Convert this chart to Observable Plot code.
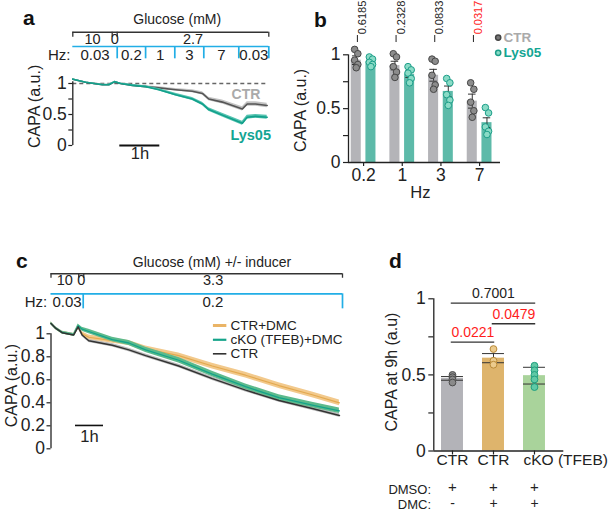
<!DOCTYPE html>
<html><head><meta charset="utf-8">
<script src="https://cdn.jsdelivr.net/npm/d3@7"></script>
<script src="https://cdn.jsdelivr.net/npm/@observablehq/plot@0.6"></script>
<style>
body{margin:0;background:#fff;}
#fig{position:relative;width:609px;height:511px;overflow:hidden;font-family:"Liberation Sans",Arial,Helvetica,sans-serif;background:#fff;}
#fig svg{position:absolute;left:0;top:0;}
.lab{position:absolute;font-weight:bold;font-size:21px;color:#111;line-height:1;}
</style></head><body>
<div id="fig">
  <div class="lab" style="left:23px;top:7px">a</div>
  <div class="lab" style="left:314px;top:9px">b</div>
  <div class="lab" style="left:16px;top:250px">c</div>
  <div class="lab" style="left:389px;top:250px">d</div>
</div>
<script>
// ---------------- DATA ----------------
// Panel a: time (h) and normalised CAPA
const aTime   = [0, 0.32, 0.74, 0.9, 1.05, 1.19, 1.49, 1.82, 2.15, 2.57, 2.99, 3.24, 3.4, 3.74, 4.24, 4.36, 4.57, 4.86];
const aCtr    = [1.07, 1.02, 0.98, 0.98, 1.03, 1.0, 0.97, 0.95, 0.93, 0.90, 0.875, 0.84, 0.75, 0.70, 0.59, 0.67, 0.67, 0.645];
const aCtrSem = [0.006, 0.006, 0.006, 0.006, 0.008, 0.01, 0.012, 0.015, 0.018, 0.021, 0.024, 0.027, 0.03, 0.032, 0.034, 0.035, 0.035, 0.035];
const aLys    = [1.07, 1.02, 0.98, 0.98, 1.03, 1.0, 0.97, 0.95, 0.90, 0.82, 0.75, 0.67, 0.58, 0.49, 0.36, 0.455, 0.47, 0.455];
const aLysSem = [0.006, 0.006, 0.006, 0.006, 0.008, 0.01, 0.012, 0.015, 0.018, 0.021, 0.024, 0.026, 0.028, 0.03, 0.032, 0.032, 0.032, 0.032];
const aGluEdges  = [0, 0.985, 1.11, 4.9];
const aGluLabels = ["10", "0", "2.7"];
const aHzEdges   = [0, 1.11, 1.82, 2.55, 3.275, 4.15, 4.9];
const aHzLabels  = ["0.03", "0.2", "1", "3", "7", "0.03"];
const aYTicks = [0, 0.25, 0.5, 0.75, 1];

// Panel b
const bHz       = ["0.2", "1", "3", "7"];
const bCtrMean  = [0.95, 0.90, 0.81, 0.57];
const bCtrSem   = [0.04, 0.04, 0.055, 0.065];
const bLysMean  = [0.94, 0.82, 0.66, 0.37];
const bLysSem   = [0.02, 0.03, 0.05, 0.045];
const bCtrPts   = [[1.05, 1.01, 0.95, 0.91, 0.88], [1.01, 0.98, 0.89, 0.84, 0.79], [0.96, 0.94, 0.81, 0.72, 0.68], [0.74, 0.68, 0.56, 0.48, 0.42]];
const bLysPts   = [[0.98, 0.96, 0.93, 0.91, 0.89], [0.89, 0.86, 0.83, 0.78, 0.74], [0.78, 0.74, 0.63, 0.58, 0.53], [0.51, 0.46, 0.33, 0.29, 0.26]];
const bP        = ["0.6185", "0.2328", "0.0833", "0.0317"];

// Panel c
const cTime   = [0, 0.16, 0.4, 0.81, 0.97, 1.11, 1.35, 2.19, 2.78, 3.38, 4.56, 5.76, 6.95, 8.14, 9.33, 10.3];
const cCtr    = [1.09, 1.05, 1.01, 0.99, 1.06, 0.99, 0.94, 0.90, 0.86, 0.81, 0.72, 0.61, 0.51, 0.42, 0.35, 0.29];
const cCtrSem = [0.012, 0.012, 0.012, 0.012, 0.014, 0.014, 0.015, 0.015, 0.015, 0.015, 0.016, 0.016, 0.016, 0.016, 0.016, 0.016];
const cDmc    = [1.09, 1.05, 1.01, 0.99, 1.06, 1.0, 0.97, 0.94, 0.92, 0.87, 0.81, 0.72, 0.64, 0.55, 0.47, 0.40];
const cDmcSem = [0.012, 0.012, 0.012, 0.012, 0.016, 0.018, 0.02, 0.022, 0.022, 0.024, 0.024, 0.025, 0.025, 0.025, 0.025, 0.025];
const cKo     = [1.09, 1.05, 1.01, 0.99, 1.07, 1.04, 1.02, 0.95, 0.92, 0.86, 0.77, 0.65, 0.54, 0.445, 0.38, 0.33];
const cKoSem  = [0.012, 0.012, 0.012, 0.012, 0.016, 0.018, 0.02, 0.02, 0.022, 0.022, 0.024, 0.024, 0.024, 0.024, 0.024, 0.024];
const cGluEdges  = [0, 0.99, 1.17, 10.41];
const cGluLabels = ["10", "0", "3.3"];
const cHzEdges   = [0, 1.15, 10.41];
const cHzLabels  = ["0.03", "0.2"];
const cSeries    = ["CTR+DMC", "cKO (TFEB)+DMC", "CTR"];
const cYTicks    = [0, 0.2, 0.4, 0.6, 0.8, 1];

// Panel d
const dGroups = ["CTR", "CTR", "cKO (TFEB)"];
const dMean   = [0.477, 0.61, 0.495];
const dSem    = [0.012, 0.03, 0.055];
const dPts    = [[0.50, 0.485, 0.47, 0.45], [0.67, 0.593, 0.567], [0.56, 0.53, 0.50, 0.47, 0.42]];
const dDMSO   = ["+", "+", "+"];
const dDMC    = ["-", "+", "+"];
const dComp   = [{from: 0, to: 2, p: "0.7001"}, {from: 1, to: 2, p: "0.0479"}, {from: 0, to: 1, p: "0.0221"}];

// ---------------- STYLE / LAYOUT ----------------
const FONT = '"Liberation Sans", Arial, Helvetica, sans-serif';
const W = 609, H = 511;
const STYLE = {fontFamily: FONT, fontSize: "16px", background: "transparent", overflow: "visible", color: "#222"};
const BLUE = "#22aee6", RED = "#ff1c1c", INK = "#222";
const TICK_FS = 17.5;
const fig = document.getElementById("fig");
const add = p => fig.appendChild(p);
const halfFmt = d => (d * 2) % 1 === 0 ? String(d) : "";

// y axis drawn with marks: ticks (ruleY) + labels (text), positioned through the scales
function yAxis(ticks, fmt, x0, pxPerX, len, pad) {
  return [
    Plot.ruleY(ticks, {x1: x0 - len / pxPerX, x2: x0, stroke: INK, strokeWidth: 1.2}),
    Plot.text(ticks.filter(t => fmt(t) !== ""), {x: x0, y: d => d, text: d => fmt(d), dx: -(len + pad), textAnchor: "end", fontSize: TICK_FS, fill: INK})
  ];
}

function protocol(gluEdges, gluLabels, hzEdges, hzLabels, L, end, title) {
  const gluSegs = gluLabels.map((l, i) => ({a: gluEdges[i], b: gluEdges[i + 1], l}));
  const hzSegs = hzLabels.map((l, i) => ({a: hzEdges[i], b: hzEdges[i + 1], l}));
  return [
    Plot.text([title], {x: L.titleX, y: L.title, text: d => d, lineAnchor: "bottom", fontSize: 14, fill: INK}),
    Plot.ruleY([L.glu], {x1: 0, x2: end, stroke: "#333", strokeWidth: 1.3}),
    Plot.ruleX(gluEdges, {y1: L.glu, y2: L.gluTick, stroke: "#333", strokeWidth: 1.3}),
    Plot.text(gluSegs, {x: d => (d.a + d.b) / 2, y: L.gluLab, text: "l", lineAnchor: "bottom", fontSize: 14.5, fill: INK}),
    Plot.ruleY([L.hz], {x1: 0, x2: end, stroke: BLUE, strokeWidth: 1.7}),
    Plot.ruleX(hzEdges.slice(1), {y1: L.hz, y2: L.hzTick, stroke: BLUE, strokeWidth: 1.7}),
    Plot.text(hzSegs, {x: d => (d.a + d.b) / 2, y: L.hzLab, text: "l", lineAnchor: "bottom", fontSize: 15, fill: INK}),
    Plot.text(["Hz:"], {x: L.hzX, y: L.hzLab, text: d => d, textAnchor: "end", lineAnchor: "bottom", fontSize: 15, fill: INK})
  ];
}

// ---------------- PANEL A ----------------
const aRows = aTime.map((t, i) => ({t, ctr: aCtr[i], ctrSem: aCtrSem[i], lys: aLys[i], lysSem: aLysSem[i]}));
const aEnd = aHzEdges[aHzEdges.length - 1];
add(Plot.plot({
  width: W, height: H, style: STYLE,
  marginLeft: 72.3, marginRight: W - 268.3, marginTop: 83, marginBottom: H - 145,
  x: {domain: [0, aEnd], axis: null},
  y: {domain: [0, 1], axis: null},
  marks: [
    Plot.ruleY([1], {stroke: "#666", strokeDasharray: "4,3", strokeWidth: 1.4}),
    Plot.areaY(aRows, {x: "t", y1: d => d.ctr - d.ctrSem, y2: d => d.ctr + d.ctrSem, fill: "#c3c3c3"}),
    Plot.lineY(aRows, {x: "t", y: "ctr", stroke: "#555", strokeWidth: 1.6}),
    Plot.areaY(aRows, {x: "t", y1: d => d.lys - d.lysSem, y2: d => d.lys + d.lysSem, fill: "#55c3b0"}),
    Plot.lineY(aRows, {x: "t", y: "lys", stroke: "#12a08b", strokeWidth: 1.6}),
    Plot.ruleX([0], {y1: 0, y2: 1.03, stroke: INK, strokeWidth: 1.3}),
    ...yAxis(aYTicks, halfFmt, 0, 40, 4, 2),
    ...protocol(aGluEdges, aGluLabels, aHzEdges, aHzLabels,
      {title: 1.963, titleX: 2.61, glu: 1.827, gluTick: 1.747, gluLab: 1.64, hz: 1.597, hzTick: 1.398, hzLab: 1.387, hzX: -0.06},
      aEnd, "Glucose (mM)"),
    Plot.text(["CTR"], {x: 3.97, y: 0.753, text: d => d, textAnchor: "start", lineAnchor: "bottom", fontSize: 14, fontWeight: "bold", fill: "#aaaaaa"}),
    Plot.text(["Lys05"], {x: 3.94, y: 0.081, text: d => d, textAnchor: "start", lineAnchor: "bottom", fontSize: 14.5, fontWeight: "bold", fill: "#14a593"}),
    Plot.ruleY([0], {x1: 1.175, x2: 2.175, stroke: "#111", strokeWidth: 2}),
    Plot.text(["1h"], {x: 1.68, y: -0.215, text: d => d, lineAnchor: "bottom", fontSize: 16.5, fill: INK}),
    Plot.text(["CAPA (a.u.)"], {x: -0.96, y: 0.63, text: d => d, rotate: -90, fontSize: 16, fill: INK})
  ]
}));

// ---------------- PANEL B ----------------
const bOff = {CTR: -0.19, Lys05: 0.19};
const bHalf = 0.13;
const bRows = bHz.flatMap((hz, i) => [
  {i, g: "CTR", mean: bCtrMean[i], sem: bCtrSem[i]},
  {i, g: "Lys05", mean: bLysMean[i], sem: bLysSem[i]}
]);
const bJit = [-1.6, 1.6, -1.6, 1.6, 0];
const bPts = bHz.flatMap((hz, i) => [
  ...bCtrPts[i].map((v, r) => ({i, g: "CTR", r, v})),
  ...bLysPts[i].map((v, r) => ({i, g: "Lys05", r, v}))
]);
const bc = d => d.i + bOff[d.g];
const bPx = 38.7, bPy = 107.7; // px per unit
const bX0 = -0.39;
const bPRows = bP.map((p, i) => ({i, p}));
add(Plot.plot({
  width: W, height: H, style: STYLE,
  marginLeft: 348, marginRight: W - 500, marginTop: 54.3, marginBottom: H - 162,
  x: {domain: [bX0, 3.54], axis: null},
  y: {domain: [0, 1], axis: null},
  marks: [
    Plot.rect(bRows.filter(d => d.g === "CTR"), {x1: d => bc(d) - bHalf, x2: d => bc(d) + bHalf, y1: 0, y2: "mean", fill: "#b4b4b8"}),
    Plot.rect(bRows.filter(d => d.g === "Lys05"), {x1: d => bc(d) - bHalf, x2: d => bc(d) + bHalf, y1: 0, y2: "mean", fill: "#5dbaa9"}),
    Plot.ruleX(bRows, {x: bc, y1: d => d.mean - d.sem, y2: d => d.mean + d.sem, stroke: "#333", strokeWidth: 1}),
    Plot.ruleY(bRows, {y: d => d.mean + d.sem, x1: d => bc(d) - bHalf * 0.75, x2: d => bc(d) + bHalf * 0.75, stroke: "#333", strokeWidth: 1}),
    Plot.ruleY(bRows, {y: d => d.mean - d.sem, x1: d => bc(d) - bHalf * 0.75, x2: d => bc(d) + bHalf * 0.75, stroke: "#333", strokeWidth: 1}),
    Plot.dot(bPts.filter(d => d.g === "CTR"), {x: d => bc(d) + bJit[d.r] / bPx, y: "v", r: 3.3, fill: "#8c8c8c", stroke: "#474747", strokeWidth: 1}),
    Plot.dot(bPts.filter(d => d.g === "Lys05"), {x: d => bc(d) + bJit[d.r] / bPx, y: "v", r: 3.3, fill: "#8adbc6", stroke: "#1c9e89", strokeWidth: 1}),
    Plot.ruleX([bX0], {y1: 0, y2: 1, stroke: INK, strokeWidth: 1.3}),
    Plot.ruleY([0], {stroke: INK, strokeWidth: 1.3}),
    ...yAxis(aYTicks, halfFmt, bX0, bPx, 5, 3),
    Plot.ruleX(bHz.map((h, i) => i), {y1: 0, y2: -4 / bPy, stroke: INK, strokeWidth: 1.2}),
    Plot.text(bHz, {x: (d, i) => i, y: 0, dy: 6, text: d => d, lineAnchor: "top", fontSize: TICK_FS, fill: INK}),
    Plot.ruleX(bPRows, {x: d => d.i - 0.16, y1: 1.114, y2: 1.179, stroke: INK, strokeWidth: 1}),
    Plot.text(bPRows.filter(d => +d.p >= 0.05), {x: d => d.i - 0.03, y: 1.19, text: "p", rotate: -90, textAnchor: "start", fontSize: 11, fill: INK}),
    Plot.text(bPRows.filter(d => +d.p < 0.05), {x: d => d.i - 0.03, y: 1.19, text: "p", rotate: -90, textAnchor: "start", fontSize: 11, fill: RED}),
    Plot.dot(["CTR"], {x: 3.48, y: 1.16, r: 2.6, fill: "#777", stroke: "#444"}),
    Plot.dot(["Lys05"], {x: 3.48, y: 1.018, r: 2.6, fill: "#8adbc6", stroke: "#1c9e89"}),
    Plot.text(["CTR"], {x: 3.62, y: 1.16, text: d => d, textAnchor: "start", fontSize: 13.5, fontWeight: "bold", fill: "#aaaaaa"}),
    Plot.text(["Lys05"], {x: 3.62, y: 1.018, text: d => d, textAnchor: "start", fontSize: 13.5, fontWeight: "bold", fill: "#14a593"}),
    Plot.text(["Hz"], {x: 1.47, y: -0.334, text: d => d, lineAnchor: "bottom", fontSize: 16.5, fill: INK}),
    Plot.text(["CAPA (a.u.)"], {x: -1.628, y: 0.483, text: d => d, rotate: -90, fontSize: 16, fill: INK})
  ]
}));

// ---------------- PANEL C ----------------
const cRows = cTime.map((t, i) => ({t, ctr: cCtr[i], ctrSem: cCtrSem[i], dmc: cDmc[i], dmcSem: cDmcSem[i], ko: cKo[i], koSem: cKoSem[i]}));
const cEnd = cHzEdges[cHzEdges.length - 1];
const cLegY = [1.072, 0.948, 0.826];
const cLegStroke = ["#eab466", "#16a48a", "#333"];
const cLegWidth = [3, 2.2, 1.6];
add(Plot.plot({
  width: W, height: H, style: STYLE,
  marginLeft: 50.5, marginRight: W - 342, marginTop: 333.3, marginBottom: H - 448.3,
  x: {domain: [0, cEnd], axis: null},
  y: {domain: [0, 1], axis: null},
  marks: [
    Plot.areaY(cRows, {x: "t", y1: d => d.ctr - d.ctrSem, y2: d => d.ctr + d.ctrSem, fill: "#bdbdbd"}),
    Plot.areaY(cRows, {x: "t", y1: d => d.dmc - d.dmcSem, y2: d => d.dmc + d.dmcSem, fill: "#f2c98c"}),
    Plot.lineY(cRows, {x: "t", y: "dmc", stroke: "#e3a94f", strokeWidth: 1.2}),
    Plot.areaY(cRows, {x: "t", y1: d => d.ko - d.koSem, y2: d => d.ko + d.koSem, fill: "#5dba8c"}),
    Plot.lineY(cRows, {x: "t", y: "ko", stroke: "#14a38a", strokeWidth: 1.3}),
    Plot.lineY(cRows, {x: "t", y: "ctr", stroke: "#333", strokeWidth: 1.5}),
    Plot.ruleX([0], {y1: 0, y2: 1.0, stroke: INK, strokeWidth: 1.3}),
    ...yAxis(cYTicks, d => String(d), 0, 28, 4, 2),
    ...protocol(cGluEdges, cGluLabels, cHzEdges, cHzLabels,
      {title: 1.579, titleX: 5.75, glu: 1.522, gluTick: 1.483, gluLab: 1.426, hz: 1.348, hzTick: 1.217, hzLab: 1.231, hzX: -0.135},
      cEnd, "Glucose (mM) +/- inducer"),
    ...cSeries.map((s, i) => Plot.ruleY([cLegY[i]], {x1: 5.8, x2: 6.28, stroke: cLegStroke[i], strokeWidth: cLegWidth[i]})),
    Plot.text(cSeries, {x: 6.41, y: (d, i) => cLegY[i], text: d => d, textAnchor: "start", fontSize: 13.5, fill: INK}),
    Plot.ruleY([0.203], {x1: 0.875, x2: 1.875, stroke: "#111", strokeWidth: 1.6}),
    Plot.text(["1h"], {x: 1.375, y: 0.057, text: d => d, lineAnchor: "bottom", fontSize: 16.5, fill: INK}),
    Plot.text(["CAPA (a.u.)"], {x: -1.4, y: 0.55, text: d => d, rotate: -90, fontSize: 16, fill: INK})
  ]
}));

// ---------------- PANEL D ----------------
const dRows = dGroups.map((g, i) => ({i, g, mean: dMean[i], sem: dSem[i]}));
const dPtRows = dPts.flatMap((arr, i) => arr.map((v, r) => ({i, r, v})));
const dFill = ["#b3b3b8", "#deb46c", "#a9d39b"];
const dDotFill = ["#8a8a8a", "#eccb8d", "#60c9a6"];
const dDotStroke = ["#4d4d4d", "#b98a38", "#1f9f7f"];
const dHalf = 0.268;
const dX0 = -0.456, dPx = 41, dPy = 152.2;
const dCompLevel = [0.971, 0.836, 0.715];
const dCompRows = dComp.map((c, k) => ({...c, lvl: dCompLevel[k]}));
add(Plot.plot({
  width: W, height: H, style: STYLE,
  marginLeft: 433.3, marginRight: W - 563.3, marginTop: 298.3, marginBottom: H - 450.5,
  x: {domain: [dX0, 2.715], axis: null},
  y: {domain: [0, 1], axis: null},
  marks: [
    ...dRows.map(d => Plot.rect([d], {x1: d.i - dHalf, x2: d.i + dHalf, y1: 0, y2: "mean", fill: dFill[d.i]})),
    Plot.ruleX(dRows, {x: "i", y1: d => d.mean - d.sem, y2: d => d.mean + d.sem, stroke: "#333", strokeWidth: 1}),
    Plot.ruleY(dRows, {y: d => d.mean + d.sem, x1: d => d.i - dHalf, x2: d => d.i + dHalf, stroke: "#333", strokeWidth: 1}),
    Plot.ruleY(dRows, {y: d => d.mean - d.sem, x1: d => d.i - dHalf, x2: d => d.i + dHalf, stroke: "#333", strokeWidth: 1}),
    ...dRows.map(d => Plot.dot(dPtRows.filter(p => p.i === d.i), {x: "i", y: "v", r: 3.4, fill: dDotFill[d.i], stroke: dDotStroke[d.i], strokeWidth: 1})),
    Plot.ruleX([dX0], {y1: 0, y2: 1, stroke: INK, strokeWidth: 1.3}),
    Plot.ruleY([0], {stroke: INK, strokeWidth: 1.3}),
    ...yAxis(aYTicks, halfFmt, dX0, dPx, 5, 3),
    Plot.ruleX(dRows, {x: "i", y1: 0, y2: -4 / dPy, stroke: INK, strokeWidth: 1.2}),
    Plot.ruleY(dCompRows, {y: "lvl", x1: d => d.from - 0.03, x2: d => d.to + 0.03, stroke: "#333", strokeWidth: 1.3}),
    Plot.text(dCompRows.filter(d => +d.p >= 0.05), {x: d => (d.from + d.to) / 2, y: "lvl", dy: -5, text: "p", lineAnchor: "bottom", fontSize: 14, fill: INK}),
    Plot.text(dCompRows.filter(d => +d.p < 0.05), {x: d => (d.from + d.to) / 2, y: "lvl", dy: -5, text: "p", lineAnchor: "bottom", fontSize: 14, fill: RED}),
    Plot.text(dRows.filter(d => d.i < 2), {x: "i", y: -0.095, text: "g", lineAnchor: "bottom", fontSize: 15.5, fill: INK}),
    Plot.text(dRows.filter(d => d.i === 2), {x: d => d.i - dHalf, y: -0.095, text: "g", textAnchor: "start", lineAnchor: "bottom", fontSize: 15.5, fill: INK}),
    Plot.text(["DMSO:"], {x: -0.524, y: -0.28, text: d => d, textAnchor: "end", lineAnchor: "bottom", fontSize: 13, fill: INK}),
    Plot.text(["DMC:"], {x: -0.524, y: -0.378, text: d => d, textAnchor: "end", lineAnchor: "bottom", fontSize: 13, fill: INK}),
    Plot.text(dDMSO, {x: (d, i) => i, y: -0.272, text: d => d, lineAnchor: "bottom", fontSize: 15, fill: INK}),
    Plot.text(dDMC, {x: (d, i) => i, y: -0.375, text: d => d, lineAnchor: "bottom", fontSize: 14, fill: INK}),
    Plot.text(["CAPA at 9h (a.u)"], {x: -1.473, y: 0.519, text: d => d, rotate: -90, fontSize: 16, fill: INK})
  ]
}));
</script>
</body></html>
